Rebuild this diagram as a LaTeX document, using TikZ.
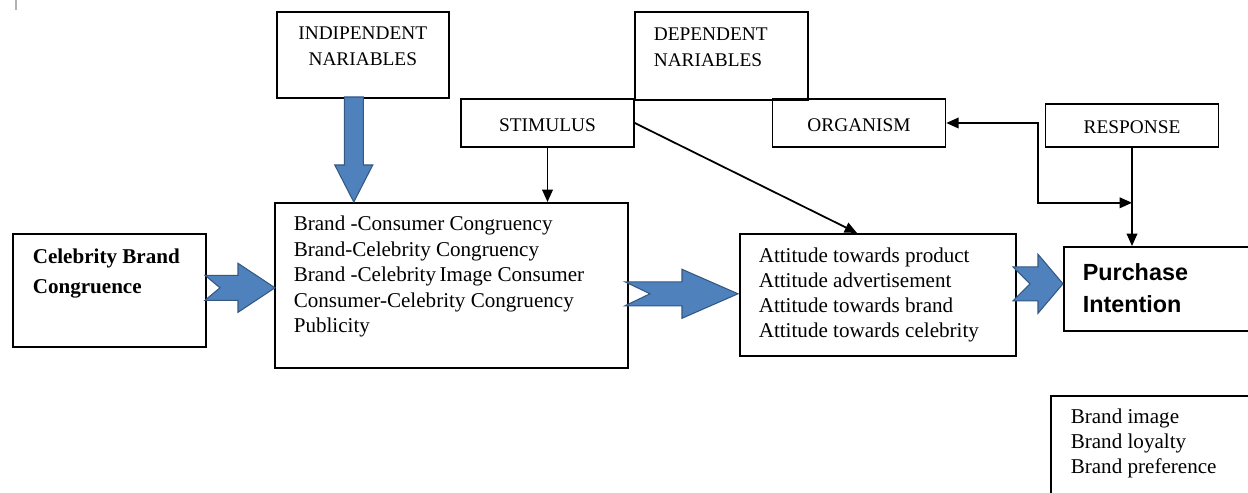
\documentclass[tikz,border=0pt]{standalone}
\usepackage{fontspec}
\setmainfont{Liberation Serif}
\newfontfamily\purchfont{Liberation Sans}
\usetikzlibrary{arrows.meta,calc}
\definecolor{fatfill}{RGB}{79,129,189}
\definecolor{fatedge}{RGB}{52,88,130}
\newlength{\unitpx}
\setlength{\unitpx}{0.02cm}
% blue block arrow: tip, half shaft, half head, head length, length, notch
\newcommand{\fatarrow}[7][]{%
\filldraw[fatblue,shift={(#2)},#1] (0,0) -- (-#5,-#4) -- (-#5,-#3) -- (-#6,-#3)
 -- (-#6+#7,0) -- (-#6,#3) -- (-#5,#3) -- (-#5,#4) -- cycle;}
\tikzset{
 box/.style={draw, line width=0.9pt, anchor=north west, inner sep=0pt},
 capsbox/.style={draw, line width=0.9pt, minimum height=48\unitpx, minimum width=173\unitpx,
  font=\fontsize{11}{14.7}\selectfont, text height=9.5pt, text depth=0pt},
 link/.style={line width=1pt, ->},
 fatblue/.style={fill=fatfill, draw=fatedge, line width=0.6pt, line join=miter}
}
\begin{document}
\begin{tikzpicture}[x=0.02cm, y=-0.02cm, >={Triangle[length=7pt,width=6pt]}]
\useasboundingbox (0,0) rectangle (1248,493);
\clip (0,0) rectangle (1248,493);
\draw[gray!60, line width=0.7pt] (16,0) -- (16,10);

% boxes
\node[box, inner xsep=20\unitpx, inner ysep=15.5\unitpx] (celeb) at (12,233)
 {\parbox[c][82\unitpx][t]{153\unitpx}{\fontsize{12}{17}\selectfont\bfseries \mbox{Celebrity Brand}\\ Congruence}};
\node[box, inner xsep=19\unitpx, inner ysep=13.5\unitpx] (cong) at (274,202)
 {\parbox[c][138\unitpx][t]{315\unitpx}{\fontsize{12}{14.5}\selectfont Brand -Consumer Congruency\\
 Brand-Celebrity Congruency\\ Brand -Celebrity\,Image Consumer\\ Consumer-Celebrity Congruency\\ Publicity}};
\node[box, inner xsep=19\unitpx, inner ysep=14.5\unitpx] (att) at (739,233)
 {\parbox[c][93\unitpx][t]{238\unitpx}{\fontsize{12}{14.2}\selectfont Attitude towards product\\
 Attitude advertisement\\ Attitude towards brand\\ Attitude towards celebrity}};
\node[box, inner xsep=19\unitpx, inner ysep=17\unitpx] (purch) at (1063,246)
 {\parbox[c][50\unitpx][t]{159\unitpx}{\purchfont\fontsize{13.3}{18}\selectfont\bfseries Purchase\\ Intention}};
\node[box, inner xsep=20\unitpx, inner ysep=13.5\unitpx] (brand) at (1050,395)
 {\parbox[c][88\unitpx][t]{170\unitpx}{\fontsize{12}{14.2}\selectfont Brand image\\ Brand loyalty\\ Brand preference}};
\node[box, inner xsep=10\unitpx, inner ysep=15\unitpx] (indep) at (276,11)
 {\parbox[c][56\unitpx][t]{152\unitpx}{\centering\fontsize{11}{14.7}\selectfont INDIPENDENT\\ NARIABLES}};
\node[box, inner xsep=19\unitpx, inner ysep=16\unitpx] (dep) at (634,11)
 {\parbox[c][56\unitpx][t]{135\unitpx}{\fontsize{11}{14.7}\selectfont DEPENDENT\\ NARIABLES}};
\node[capsbox] (stim) at (547.5,123) {STIMULUS};
\node[capsbox] (org) at (859,123) {ORGANISM};
\node[capsbox, minimum height=43\unitpx] (resp) at (1132,125.5) {RESPONSE};

% black connectors
\draw[link] (stim.south) -- (stim.south |- cong.north);
\draw[link] (stim.east) -- ($(att.north west)+(118,0)$);
\draw[link] (resp.south) -- (resp.south |- purch.north);
\coordinate (meet) at ($(resp.south)+(0,55)$);
\draw[link, <->] (org.east) -- ++(92,0) |- (meet);

% blue arrows
\coordinate (tipa) at ($(cong.west)+(1,2.5)$);
\coordinate (tipb) at ($(att.west)+(-1,-1)$);
\coordinate (tipc) at ($(purch.west)+(0,-5)$);
\coordinate (tipd) at ($(indep.south |- cong.north)+(-9,0)$);
\fatarrow{tipa}{12.5}{24.5}{37}{70}{15}
\fatarrow{tipb}{12}{24.5}{56}{113}{25}
\fatarrow{tipc}{17}{29.5}{25}{50}{17}
\fatarrow[rotate=-90]{tipd}{9.5}{19}{37}{105}{0}
\end{tikzpicture}
\end{document}
